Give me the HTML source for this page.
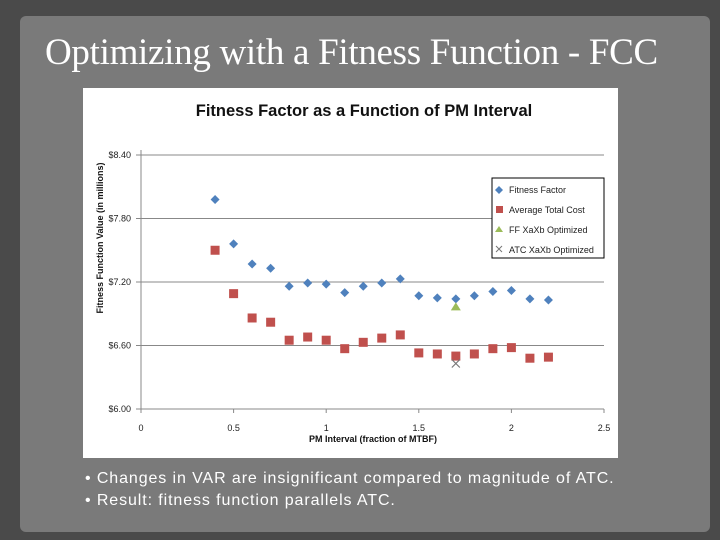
<!DOCTYPE html>
<html><head><meta charset="utf-8"><style>
body{margin:0;width:720px;height:540px;overflow:hidden;background:#4a4a4a;font-family:"Liberation Sans",sans-serif}
#panel{position:absolute;left:20px;top:16px;width:690px;height:516px;background:#7a7a7a;border-radius:6px}
#title{position:absolute;left:45px;top:31px;font-family:"Liberation Serif",serif;font-size:37px;color:#fff;letter-spacing:-0.3px}
#chart{position:absolute;left:83px;top:88px}
.b{position:absolute;left:85px;color:#fff;font-size:16px;letter-spacing:0.9px}
</style></head><body>
<div id="panel"></div>
<div id="title">Optimizing with a Fitness Function - FCC</div>
<svg id="chart" width="535" height="370" font-family="Liberation Sans, sans-serif">
<rect width="535" height="370" fill="#fff"/>
<text x="281" y="28" font-size="16.5" font-weight="bold" text-anchor="middle" fill="#111">Fitness Factor as a Function of PM Interval</text>
<g id="grid"></g><g id="marks"></g>
<text transform="translate(20,150) rotate(-90)" font-size="9" font-weight="bold" text-anchor="middle" fill="#111">Fitness Function Value (in millions)</text>
<text x="290" y="354" font-size="9" font-weight="bold" text-anchor="middle" fill="#111">PM Interval (fraction of MTBF)</text>
<g>
<rect x="409" y="90" width="112" height="80" fill="#fff" stroke="#000"/>
<path d="M416 98l4 4-4 4-4-4z" fill="#4f81bd"/>
<text x="426" y="105" font-size="9" fill="#222">Fitness Factor</text>
<rect x="413" y="118" width="7" height="7" fill="#c0504d"/>
<text x="426" y="125" font-size="9" fill="#222">Average Total Cost</text>
<path d="M416 138l4 6h-8z" fill="#9bbb59"/>
<text x="426" y="145" font-size="9" fill="#222">FF XaXb Optimized</text>
<path d="M413 158l6 6M419 158l-6 6" stroke="#777" stroke-width="1"/>
<text x="426" y="165" font-size="9" fill="#222">ATC XaXb Optimized</text>
</g>
</svg>
<div class="b" style="top:470px">• Changes in VAR are insignificant compared to magnitude of ATC.</div>
<div class="b" style="top:492px">• Result: fitness function parallels ATC.</div>
<script>
const xs=[0.4,0.5,0.6,0.7,0.8,0.9,1.0,1.1,1.2,1.3,1.4,1.5,1.6,1.7,1.8,1.9,2.0,2.1,2.2];
const ff=[7.98,7.56,7.37,7.33,7.16,7.19,7.18,7.10,7.16,7.19,7.23,7.07,7.05,7.04,7.07,7.11,7.12,7.04,7.03];
const atc=[7.50,7.09,6.86,6.82,6.65,6.68,6.65,6.57,6.63,6.67,6.70,6.53,6.52,6.50,6.52,6.57,6.58,6.48,6.49];
const ffOpt=[1.7,6.96];
const atcOpt=[1.7,6.43];
const yTicks=[6.0,6.6,7.2,7.8,8.4];
const xTicks=[0,0.5,1,1.5,2,2.5];
const NS="http://www.w3.org/2000/svg";
const X=v=>58+v/2.5*463, Y=v=>67+(8.4-v)/2.4*254;
function mk(t,a,p){const e=document.createElementNS(NS,t);for(const k in a)e.setAttribute(k,a[k]);p.appendChild(e);return e;}
const g=document.getElementById('grid'),m=document.getElementById('marks');
yTicks.forEach(v=>{const l=mk('line',{x1:53,x2:521,y1:Y(v),y2:Y(v),stroke:'#888'},g);


const t=mk('text',{x:48,y:Y(v)+3,'font-size':9,'text-anchor':'end',fill:'#222'},g);t.textContent='$'+v.toFixed(2);

});
mk('line',{x1:58,x2:58,y1:Y(8.4)-5,y2:Y(6.0),stroke:'#888'},g);
xTicks.forEach(v=>{mk('line',{x1:X(v),x2:X(v),y1:Y(6),y2:Y(6)+4,stroke:'#888'},g);
const t=mk('text',{x:X(v),y:Y(6)+22,'font-size':9,'text-anchor':'middle',fill:'#222'},g);t.textContent=v;

});
xs.forEach((x,i)=>{const cx=X(x),cy=Y(ff[i]);
const d=mk('path',{d:`M${cx} ${cy-4.5}l4.5 4.5-4.5 4.5-4.5-4.5z`,fill:'#4f81bd'},m);


const r=mk('rect',{x:X(x)-4.5,y:Y(atc[i])-4.5,width:9,height:9,fill:'#c0504d'},m);

});
const tx=X(ffOpt[0]),ty=Y(ffOpt[1]);
const tr=mk('path',{d:`M${tx} ${ty-5}l5 8h-10z`,fill:'#9bbb59'},m);


const ax=X(atcOpt[0]),ay=Y(atcOpt[1]);
const cr=mk('path',{d:`M${ax-4} ${ay-4}l8 8M${ax+4} ${ay-4}l-8 8`,stroke:'#777','stroke-width':1.2},m);


</script>
</body></html>
